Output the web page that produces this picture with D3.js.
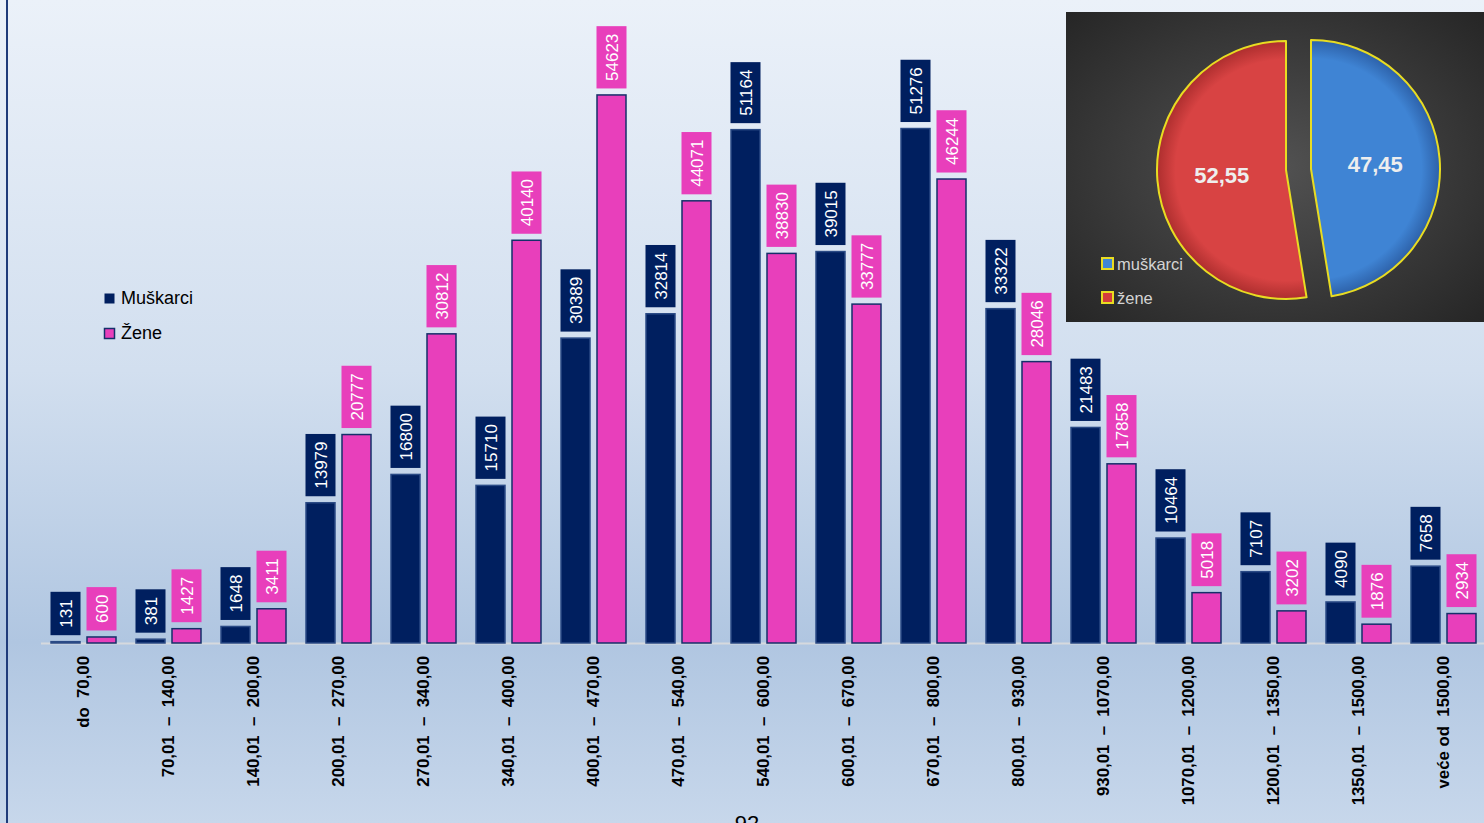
<!DOCTYPE html>
<html><head><meta charset="utf-8">
<script src="https://cdn.jsdelivr.net/npm/d3@7"></script>
<style>html,body{margin:0;padding:0;overflow:hidden;background:#fff}</style>
</head><body>
<svg id="c" width="1484" height="823"></svg>
<script>
const categories = ["do  70,00","70,01  –  140,00","140,01  –  200,00","200,01  –  270,00","270,01  –  340,00","340,01  –  400,00","400,01  –  470,00","470,01  –  540,00","540,01  –  600,00","600,01  –  670,00","670,01  –  800,00","800,01  –  930,00","930,01  –  1070,00","1070,01  –  1200,00","1200,01  –  1350,00","1350,01  –  1500,00","veće od  1500,00"];
const muskarci = [131,381,1648,13979,16800,15710,30389,32814,51164,39015,51276,33322,21483,10464,7107,4090,7658];
const zene = [600,1427,3411,20777,30812,40140,54623,44071,38830,33777,46244,28046,17858,5018,3202,1876,2934];
const seriesNames = ["Muškarci","Žene"];
const pieLabels = ["muškarci","žene"];
const pieValues = [47.45, 52.55];
const pageNumber = "92";

const svg = d3.select("#c");
const W = 1484, H = 823;
const defs = svg.append("defs");
const bg = defs.append("linearGradient").attr("id","bg").attr("x1",0).attr("y1",0).attr("x2",0).attr("y2",1);
[[0,"#ebf1f9"],[0.45,"#d2dfef"],[0.78,"#b0c6e1"],[1,"#c7d7eb"]].forEach(s=>bg.append("stop").attr("offset",s[0]).attr("stop-color",s[1]));
svg.append("rect").attr("width",W).attr("height",H).attr("fill","url(#bg)");
svg.append("rect").attr("x",6).attr("y",0).attr("width",2).attr("height",H).attr("fill","#1f3b7a");

const colors = {m:"#001f5f", w:"#e83fbb"};
const strokes = {m:"#2a4a85", w:"#14306a"};

const x0 = d3.scaleBand().domain(categories).range([41,1486]);
const x1 = d3.scaleBand().domain(["m","w"]).range([10,75]).paddingInner(7/36);
const y = d3.scaleLinear().domain([0,60000]).range([643,41]);

const data = categories.map((c,i)=>({c, vals:[{k:"m",v:muskarci[i]},{k:"w",v:zene[i]}]}));

// axis line
svg.append("line").attr("x1",41).attr("x2",W).attr("y1",y(0)+0.5).attr("y2",y(0)+0.5).attr("stroke","#d6d9de").attr("stroke-width",2);

const g = svg.append("g").selectAll("g").data(data).join("g").attr("transform",d=>`translate(${x0(d.c)},0)`);
g.selectAll("rect.bar").data(d=>d.vals).join("rect").attr("class","bar")
  .attr("x",d=>x1(d.k)).attr("width",x1.bandwidth())
  .attr("y",d=>y(d.v)).attr("height",d=>y(0)-y(d.v))
  .attr("fill",d=>colors[d.k]).attr("stroke",d=>strokes[d.k]).attr("stroke-width",1.5);

// data labels
g.each(function(d){
  const gg = d3.select(this);
  d.vals.forEach(v=>{
    const cx = x1(v.k)+x1.bandwidth()/2;
    const lg = gg.append("g");
    const t = lg.append("text").text(v.v).attr("font-family","Liberation Sans, Arial, sans-serif").attr("font-size",17).attr("fill","#fff")
      .attr("text-anchor","middle").attr("dy","0.35em");
    const len = t.node().getComputedTextLength();
    const boxH = len+15;
    const bottom = y(v.v)-6.5;
    const top = bottom-boxH;
    lg.insert("rect","text").attr("x",cx-15).attr("width",30).attr("y",top).attr("height",boxH).attr("fill",colors[v.k]);
    t.attr("transform",`translate(${cx+0.5},${top+boxH/2}) rotate(-90)`);
  });
});

// x labels
svg.append("g").selectAll("text").data(categories).join("text")
  .attr("transform",d=>`translate(${x0(d)+x0.bandwidth()/2},656) rotate(-90)`)
  .attr("text-anchor","end").attr("dy","0.35em").attr("xml:space","preserve").style("white-space","pre")
  .attr("font-family","Liberation Sans, Arial, sans-serif").attr("font-weight","bold").attr("font-size",16.8).attr("fill","#000")
  .text(d=>d);

// legend
const leg = svg.append("g");
seriesNames.forEach((n,i)=>{
  const k = i===0?"m":"w";
  leg.append("rect").attr("x",104.5).attr("y",293.5+i*35).attr("width",10).attr("height",10).attr("fill",colors[k]).attr("stroke",i?strokes.w:"none").attr("stroke-width",1.5);
  leg.append("text").attr("x",121).attr("y",298+i*35).attr("dy","0.35em").attr("font-family","Liberation Sans, Arial, sans-serif").attr("font-size",18).attr("fill","#000").text(n);
});

// page number
svg.append("text").attr("x",747).attr("y",831).attr("text-anchor","middle").attr("font-family","Liberation Sans, Arial, sans-serif").attr("font-size",22).attr("fill","#000").text(pageNumber);

// pie inset
const ib = defs.append("radialGradient").attr("id","ibg").attr("cx","0.5").attr("cy","0.5").attr("r","0.7");
ib.append("stop").attr("offset",0).attr("stop-color","#525252");
ib.append("stop").attr("offset",1).attr("stop-color","#262626");
svg.append("rect").attr("x",1066).attr("y",12).attr("width",418).attr("height",310).attr("fill","url(#ibg)");

const pg = [["pb","#3f84d4","#2c5fa6"],["pr","#d84343","#ab2d2d"]];
pg.forEach(p=>{
  const rg = defs.append("radialGradient").attr("id",p[0]).attr("gradientUnits","userSpaceOnUse").attr("cx",0).attr("cy",0).attr("r",130);
  rg.append("stop").attr("offset",0).attr("stop-color",p[1]);
  rg.append("stop").attr("offset",0.85).attr("stop-color",p[1]);
  rg.append("stop").attr("offset",1).attr("stop-color",p[2]);
});
const pie = d3.pie().sort(null)(pieValues);
const R = 129;
const arc = d3.arc().innerRadius(0).outerRadius(R);
const centers = [[1311,169],[1286,170]];
const pieFills = ["url(#pb)","url(#pr)"];
pie.forEach((s,i)=>{
  const sg = svg.append("g").attr("transform",`translate(${centers[i][0]},${centers[i][1]})`);
  sg.append("path").attr("d",arc(s)).attr("fill",pieFills[i]).attr("stroke","#e8dc22").attr("stroke-width",2).attr("stroke-linejoin","round");
  const c = arc.centroid(s);
  sg.append("text").attr("x",c[0]).attr("y",c[1]).attr("dy","0.35em").attr("text-anchor","middle")
    .attr("font-family","Liberation Sans, Arial, sans-serif").attr("font-weight","bold").attr("font-size",22).attr("fill","#eeeeee")
    .text(d3.format(".2f")(s.data).replace(".",","));
});
const pieColors = ["#3f86d6","#d43c3c"];
pieLabels.forEach((n,i)=>{
  svg.append("rect").attr("x",1102).attr("y",258+i*34).attr("width",11).attr("height",11).attr("fill",pieColors[i]).attr("stroke","#e8dc22").attr("stroke-width",2);
  svg.append("text").attr("x",1117).attr("y",264+i*34).attr("dy","0.35em").attr("font-family","Liberation Sans, Arial, sans-serif").attr("font-size",16.5).attr("fill","#d4d4d4").text(n);
});
</script>
</body></html>
